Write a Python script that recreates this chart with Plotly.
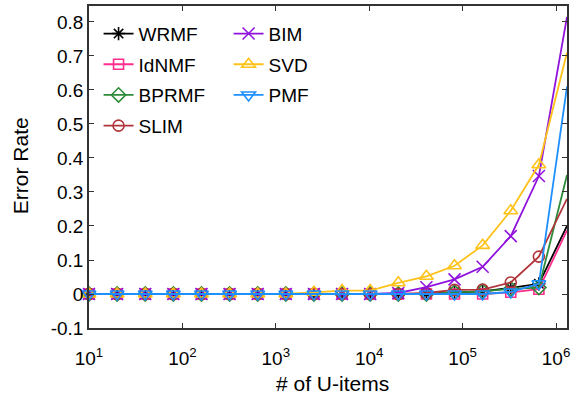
import plotly.graph_objects as go

x_items = [10, 20, 40, 80, 160, 320, 640, 1280, 2560, 5120, 10240, 20480,
           40960, 81920, 163840, 327680, 655360, 1310720]

wrmf  = [0, 0, 0, 0, 0, 0, 0, 0, 0, 0, 0, 0, 0, 0.005, 0.008, 0.018, 0.03, 0.20]
idnmf = [0, 0, 0, 0, 0, 0, 0, 0, 0, 0, 0, 0, 0, 0, 0, 0.005, 0.014, 0.187]
bprmf = [0, 0, 0, 0, 0, 0, 0, 0, 0, 0, 0, 0, 0, 0.005, 0.008, 0.015, 0.019, 0.35]
slim  = [0, 0, 0, 0, 0, 0, 0, 0, 0, 0, 0, 0, 0.003, 0.012, 0.013, 0.034, 0.11, 0.28]
bim   = [0, 0, 0, 0, 0, 0, 0, 0, 0, 0, 0, 0.003, 0.02, 0.043, 0.08, 0.17, 0.347, 0.815]
svd   = [0, 0, 0, 0, 0, 0, 0, 0, 0.005, 0.01, 0.01, 0.033, 0.052, 0.083, 0.143, 0.245, 0.38, 0.71]
pmf   = [0, 0, 0, 0, 0, 0, 0, 0, 0, 0, 0, 0, 0, 0, 0, 0.006, 0.03, 0.61]

x_tickvals = [10, 100, 1000, 10000, 100000, 1000000]
x_ticktext = ["10<sup>1</sup>", "10<sup>2</sup>", "10<sup>3</sup>",
              "10<sup>4</sup>", "10<sup>5</sup>", "10<sup>6</sup>"]
y_tickvals = [-0.1, 0, 0.1, 0.2, 0.3, 0.4, 0.5, 0.6, 0.7, 0.8]
y_ticktext = ["-0.1", "0", "0.1", "0.2", "0.3", "0.4", "0.5", "0.6", "0.7", "0.8"]

series = [
    ("WRMF", wrmf, "#000000", "asterisk-open", 11, "legend"),
    ("IdNMF", idnmf, "#FF2D8E", "square-open", 10, "legend"),
    ("BPRMF", bprmf, "#2E8B3A", "diamond-open", 11, "legend"),
    ("SLIM", slim, "#B0343A", "circle-open", 11, "legend"),
    ("BIM", bim, "#9013DD", "x-thin-open", 12, "legend2"),
    ("SVD", svd, "#FFC21A", "triangle-up-open", 12, "legend2"),
    ("PMF", pmf, "#1E8FFF", "triangle-down-open", 12, "legend2"),
]

fig = go.Figure()
for name, vals, color, sym, size, leg in series:
    fig.add_trace(go.Scatter(
        x=x_items, y=vals, name=name, mode="lines+markers",
        line=dict(color=color, width=1.8),
        marker=dict(symbol=sym, size=size, color=color,
                    line=dict(color=color, width=1.6)),
        legend=leg, legendgroup=name, cliponaxis=False,
    ))

font_family = "Liberation Sans, Arial, sans-serif"
leg_common = dict(
    font=dict(family=font_family, size=19, color="#000000"),
    bgcolor="rgba(255,255,255,0)", borderwidth=0,
    traceorder="grouped", tracegroupgap=3,
    xanchor="left", yanchor="top", itemwidth=30,
)

fig.update_layout(
    width=582, height=401,
    margin=dict(l=89, r=15, t=6, b=73),
    paper_bgcolor="white", plot_bgcolor="white",
    font=dict(family=font_family, color="#000000"),
    legend=dict(x=0.02, y=0.973, **leg_common),
    legend2=dict(x=0.292, y=0.973, **leg_common),
    xaxis=dict(
        type="log", range=[1, 6.1175],
        tickvals=x_tickvals, ticktext=x_ticktext,
        ticks="inside", ticklen=5, tickcolor="#333333",
        showline=True, linecolor="#333333", linewidth=1.5, mirror="ticks",
        showgrid=False, zeroline=False, automargin=False,
        tickfont=dict(size=19, family=font_family),
        ticklabelstandoff=12,
    ),
    yaxis=dict(
        range=[-0.1, 0.847],
        tickvals=y_tickvals, ticktext=y_ticktext,
        ticks="inside", ticklen=5, tickcolor="#333333",
        showline=True, linecolor="#333333", linewidth=1.5, mirror="ticks",
        showgrid=False, zeroline=False, automargin=False,
        tickfont=dict(size=19, family=font_family),
    ),
    annotations=[
        dict(text="# of U-items", xref="paper", yref="paper", x=0.51, y=-0.171,
             xanchor="center", yanchor="middle", showarrow=False,
             font=dict(size=21, family=font_family, color="#000000")),
        dict(text="Error Rate", xref="paper", yref="paper", x=-0.144, y=0.503,
             xanchor="center", yanchor="middle", showarrow=False, textangle=-90,
             font=dict(size=21, family=font_family, color="#000000")),
    ],
)

fig.write_html("out.html", config={"displayModeBar": False},
               post_script="document.body.style.margin='0px';")
